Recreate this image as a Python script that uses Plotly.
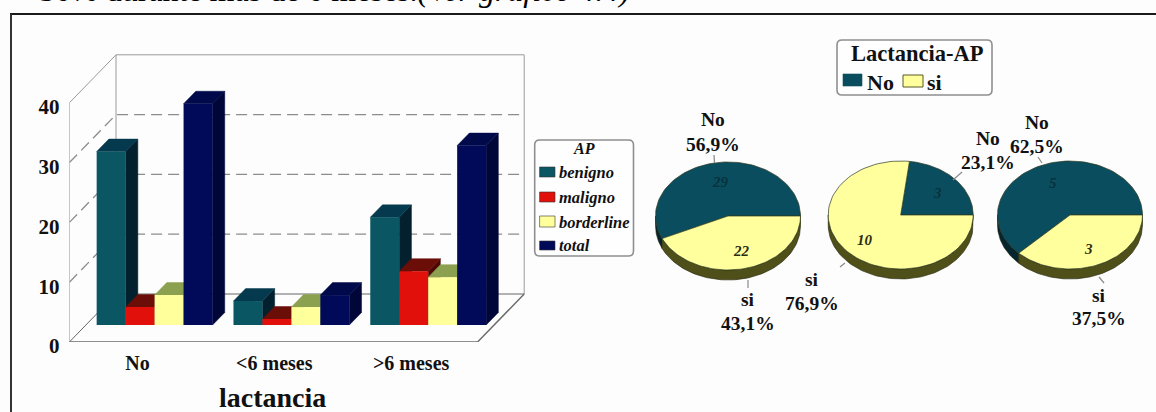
import numpy as np
import plotly.graph_objects as go

# Bar chart data: counts by breastfeeding duration and pathology group
categories = ["No", "<6 meses", ">6 meses"]
benigno = [29, 4, 18]
maligno = [3, 1, 9]
borderline = [5, 3, 8]
total = [37, 5, 30]
y_ticks = [0, 10, 20, 30, 40]

# Pie chart data: one pie per breastfeeding group
pie_labels = ["No", "si"]
pie_no = [29, 3, 5]
pie_si = [22, 10, 3]

W, H = 1156, 412
SERIF = "Liberation Serif"
INK = "#111111"
PAPER = "#fdfdfd"

series = [
    ("benigno", benigno, "#0a5663", "#02202e", "#053a4e"),
    ("maligno", maligno, "#e2100a", "#4e0804", "#6c0e08"),
    ("borderline", borderline, "#ffff9c", "#6f7f3c", "#8ca150"),
    ("total", total, "#000a58", "#000638", "#000a4a"),
]

# Axis geometry, in pixels of the page
PLOT_L, PLOT_R, PLOT_T, PLOT_B = 69.4, 530.0, 45.0, 342.0
FRONT_R = 477.6
STEP = 136.8             # pixels between groups
UNIT = 5.98              # pixels per count
BAR_X0 = 154.6           # centre of the first bar group
LABEL_X0 = 137.5         # centre of the first category label on the front plane
BAR_BASE = 325.0         # floor line under the bars
BARGAP = 0.153
BAR_W = (1 - BARGAP) / 4
BAR_DX, BAR_DY = 12.2 / STEP, 12.5 / UNIT   # depth of a bar
BOX_DX, BOX_DY = 46.6 / STEP, 48.0 / UNIT   # depth of the chart box


def px_x(x):
    return x / W


def px_y(y):
    return 1 - y / H


dom_x = [px_x(PLOT_L), px_x(PLOT_R)]
dom_y = [px_y(PLOT_B), px_y(PLOT_T)]
front_x_range = [(PLOT_L - LABEL_X0) / STEP, (PLOT_R - LABEL_X0) / STEP]
bar_x_range = [(PLOT_L - BAR_X0) / STEP, (PLOT_R - BAR_X0) / STEP]
front_y_range = [0, (PLOT_B - PLOT_T) / UNIT]
bar_y_range = [(BAR_BASE - PLOT_B) / UNIT, (BAR_BASE - PLOT_T) / UNIT]

fig = go.Figure()

# Chart box on the front-plane axes
bx0 = (PLOT_L - LABEL_X0) / STEP
bx1 = (FRONT_R - LABEL_X0) / STEP
top = 40


def box_line(xs, ys, color="#9a9a9a", width=1.0, dash="solid"):
    fig.add_trace(go.Scatter(x=xs, y=ys, mode="lines", xaxis="x", yaxis="y",
                             line=dict(color=color, width=width, dash=dash),
                             hoverinfo="skip"))


for v in y_ticks[1:4]:
    box_line([bx0, bx0 + BOX_DX, bx1 + BOX_DX], [v, v + BOX_DY, v + BOX_DY],
             color="#8c8c8c", width=1.3, dash="11px,6px")
box_line([bx0, bx0, bx0 + BOX_DX, bx1 + BOX_DX, bx1 + BOX_DX],
         [0, top, top + BOX_DY, top + BOX_DY, BOX_DY])
box_line([bx0 + BOX_DX, bx0 + BOX_DX], [BOX_DY, top + BOX_DY])
box_line([bx0, bx0 + BOX_DX, bx1 + BOX_DX], [0, BOX_DY, BOX_DY], color="#666666")
box_line([bx0, bx1, bx1 + BOX_DX], [0, 0, BOX_DY], color="#6a6a6a", width=1.4)

# Bar sides and tops, computed from the values and drawn left to right
for i in range(len(categories)):
    for j, (name, vals, front, side, cap) in enumerate(series):
        v = vals[i]
        xl = i + (j - 2) * BAR_W
        xr = xl + BAR_W
        fig.add_trace(go.Scatter(
            x=[xr, xr + BAR_DX, xr + BAR_DX, xr, xr],
            y=[0, BAR_DY, v + BAR_DY, v, 0],
            mode="lines", fill="toself", fillcolor=side,
            line=dict(color=side, width=0.5),
            xaxis="x2", yaxis="y2", hoverinfo="skip"))
        fig.add_trace(go.Scatter(
            x=[xl, xl + BAR_DX, xr + BAR_DX, xr, xl],
            y=[v, v + BAR_DY, v + BAR_DY, v, v],
            mode="lines", fill="toself", fillcolor=cap,
            line=dict(color=cap, width=0.5),
            xaxis="x2", yaxis="y2", hoverinfo="skip"))

# Bar fronts
for name, vals, front, side, cap in series:
    fig.add_trace(go.Bar(x=list(range(len(categories))), y=vals, name=name,
                         marker=dict(color=front, line=dict(width=0)),
                         xaxis="x3", yaxis="y3"))

# Pies: tilted discs built from each slice's share of its pie
PIE_CENTRES = [(728.0, 216.0), (900.7, 215.0), (1070.0, 215.0)]
RX, RY, THICK = 72.5, 54.0, 10.0
PIE_TOP = {"No": "#0a4d5e", "si": "#ffff9e"}
PIE_SIDE = {"No": "#06262f", "si": "#4f4f1a"}


def arc(cx, cy, a0, a1, n=90):
    t = np.radians(np.linspace(a0, a1, n))
    return cx + RX * np.cos(t), cy - RY * np.sin(t)


for (cx, cy), no, si in zip(PIE_CENTRES, pie_no, pie_si):
    split = 360.0 * no / (no + si)
    spans = {"No": (0.0, split), "si": (split, 360.0)}
    for lab in pie_labels:
        a0, a1 = spans[lab]
        s0, s1 = max(a0, 180.0), min(a1, 360.0)
        if s1 > s0:
            xa, ya = arc(cx, cy, s0, s1)
            fig.add_trace(go.Scatter(
                x=np.r_[xa, xa[::-1], xa[0]],
                y=np.r_[ya, ya[::-1] + THICK, ya[0]],
                mode="lines", fill="toself", fillcolor=PIE_SIDE[lab],
                line=dict(color="#23230c", width=0.6),
                xaxis="x4", yaxis="y4", hoverinfo="skip"))
    for lab in pie_labels:
        a0, a1 = spans[lab]
        xa, ya = arc(cx, cy, a0, a1)
        fig.add_trace(go.Scatter(
            x=np.r_[cx, xa, cx], y=np.r_[cy, ya, cy],
            mode="lines", fill="toself", fillcolor=PIE_TOP[lab],
            line=dict(color="#2b3a20", width=0.7),
            xaxis="x4", yaxis="y4", hoverinfo="skip"))

annotations = []
shapes = []


def text(x, y, s, size, bold=True, italic=False, color=INK, xanchor="center", yanchor="middle"):
    annotations.append(dict(
        x=px_x(x), y=px_y(y), xref="paper", yref="paper", text=s, showarrow=False,
        xanchor=xanchor, yanchor=yanchor, align="center",
        font=dict(family=SERIF, size=size, color=color,
                  weight="bold" if bold else "normal",
                  style="italic" if italic else "normal")))


def rect(x0, y0, x1, y1, fill, line="#333333", lw=0.6):
    shapes.append(dict(type="rect", xref="paper", yref="paper",
                       x0=px_x(x0), x1=px_x(x1), y0=px_y(y0), y1=px_y(y1),
                       fillcolor=fill, line=dict(color=line, width=lw), layer="above"))


def rounded(x0, y0, x1, y1, r=5, color="#8f8f8f", lw=1.6):
    X = px_x
    Y = px_y
    path = (f"M {X(x0 + r)} {Y(y0)} L {X(x1 - r)} {Y(y0)} Q {X(x1)} {Y(y0)} {X(x1)} {Y(y0 + r)} "
            f"L {X(x1)} {Y(y1 - r)} Q {X(x1)} {Y(y1)} {X(x1 - r)} {Y(y1)} L {X(x0 + r)} {Y(y1)} "
            f"Q {X(x0)} {Y(y1)} {X(x0)} {Y(y1 - r)} L {X(x0)} {Y(y0 + r)} Q {X(x0)} {Y(y0)} {X(x0 + r)} {Y(y0)} Z")
    shapes.append(dict(type="path", xref="paper", yref="paper", path=path,
                       fillcolor="#fefefe", line=dict(color=color, width=lw), layer="below"))


def leader(x0, y0, x1, y1):
    shapes.append(dict(type="line", xref="x4", yref="y4", x0=x0, y0=y0, x1=x1, y1=y1,
                       line=dict(color="#8a8a8a", width=1.2), layer="above"))


# Legend of the bar chart
rounded(534.7, 140, 633.5, 256)
text(583.7, 149, "AP", 16, italic=True)
for (name, vals, front, side, cap), (y0, y1) in zip(
        series, [(167, 177), (192, 202), (216, 227), (241, 250)]):
    rect(539.6, y0, 555, y1, front)
    text(557, (y0 + y1) / 2 + 0.5, name, 16.5, italic=True, xanchor="left")

# Legend of the pies
rounded(837, 40, 992, 95)
text(917, 54, "Lactancia-AP", 22.5)
rect(843, 74, 862, 86, PIE_TOP["No"], line=PIE_TOP["No"])
text(865, 82, "No", 22, xanchor="left")
rect(903, 75, 923, 87, PIE_TOP["si"], line="#5a5a22", lw=1)
text(925, 82, "si", 22, xanchor="left")


def pct(v, tot):
    return f"{100 * v / tot:.1f}".replace(".", ",") + "%"


# Slice labels and callouts
label_pos = [
    dict(no=(713, 120, 144), si=(748, 299, 323), vno=(720, 182), vsi=(741, 251),
         lno=(714, 155, 714.5, 163), lsi=(748, 280, 748, 288)),
    dict(no=(988, 139, 163), si=(812, 279, 303), vno=(937, 193), vsi=(865, 240),
         lno=(962, 172, 953, 180), lsi=(840, 267, 845, 263)),
    dict(no=(1037, 123, 147), si=(1099, 295, 318), vno=(1053, 183), vsi=(1088, 249),
         lno=(1038, 157, 1042, 163), lsi=(1099, 277, 1104, 283)),
]
for p, no, si in zip(label_pos, pie_no, pie_si):
    tot = no + si
    text(p["no"][0], p["no"][1], "No", 19.5)
    text(p["no"][0], p["no"][2], pct(no, tot), 19.5)
    text(p["si"][0], p["si"][1], "si", 19.5)
    text(p["si"][0], p["si"][2], pct(si, tot), 19.5)
    text(*p["vno"], str(no), 15, italic=True, color="#07323e")
    text(*p["vsi"], str(si), 15, italic=True, color="#2c2c10")
    leader(*p["lno"])
    leader(*p["lsi"])

# Axis title and the line of body text above the frame
text(272, 397, "lactancia", 28)
text(37, 10, "50% durante más de 6 meses.<i>(Ver gráfico 4.4)</i>", 32, bold=False,
     color="#000000", xanchor="left", yanchor="bottom")

# Outer frame
shapes.append(dict(type="line", xref="paper", yref="paper", x0=px_x(10), x1=1,
                   y0=px_y(14), y1=px_y(14), line=dict(color="#1a1a1a", width=2)))
shapes.append(dict(type="line", xref="paper", yref="paper", x0=px_x(11), x1=px_x(11),
                   y0=px_y(14), y1=0, line=dict(color="#333333", width=2)))

fig.update_layout(
    width=W, height=H, autosize=False,
    margin=dict(l=0, r=0, t=0, b=0, pad=0),
    paper_bgcolor=PAPER, plot_bgcolor="rgba(0,0,0,0)",
    showlegend=False, hovermode=False,
    barmode="group", bargap=BARGAP, bargroupgap=0,
    annotations=annotations, shapes=shapes,
    xaxis=dict(domain=dom_x, range=front_x_range, anchor="y", automargin=False,
               tickmode="array", tickvals=list(range(len(categories))),
               ticktext=categories, ticks="", ticklabelstandoff=7,
               showgrid=False, zeroline=False, showline=False,
               tickfont=dict(family=SERIF, size=20, color=INK, weight="bold")),
    yaxis=dict(domain=dom_y, range=front_y_range, anchor="x", automargin=False,
               tickmode="array", tickvals=y_ticks, ticks="", ticklabelstandoff=9,
               ticklabelshift=4,
               showgrid=False, zeroline=False, showline=False,
               tickfont=dict(family=SERIF, size=21, color=INK, weight="bold")),
    xaxis2=dict(domain=dom_x, range=bar_x_range, anchor="y2", overlaying="x", visible=False, automargin=False),
    yaxis2=dict(domain=dom_y, range=bar_y_range, anchor="x2", overlaying="y", visible=False, automargin=False),
    xaxis3=dict(domain=dom_x, range=bar_x_range, anchor="y3", overlaying="x", visible=False, automargin=False),
    yaxis3=dict(domain=dom_y, range=bar_y_range, anchor="x3", overlaying="y", visible=False, automargin=False),
    xaxis4=dict(domain=[px_x(640), 1], range=[640, W], anchor="y4", visible=False, automargin=False),
    yaxis4=dict(domain=[0, 1], range=[H, 0], anchor="x4", visible=False, automargin=False),
)

fig.write_html("out.html")
